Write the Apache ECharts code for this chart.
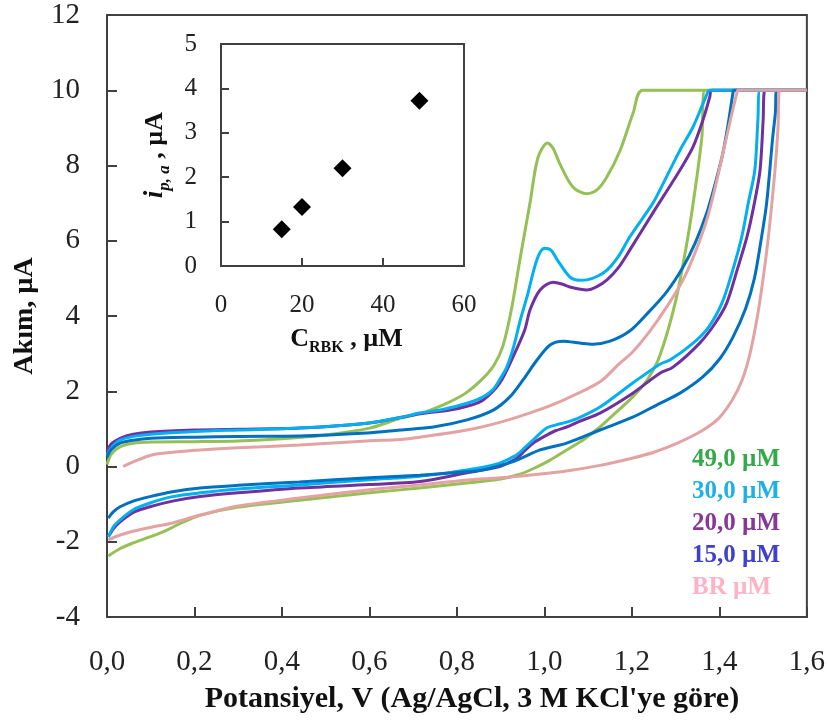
<!DOCTYPE html>
<html><head><meta charset="utf-8">
<script src="https://cdn.jsdelivr.net/npm/echarts@6/dist/echarts.min.js"></script>
<style>html,body{margin:0;padding:0;background:#fff}#c{width:828px;height:726px}</style>
</head><body><div id="c"></div>
<script>
// ---- tick labels ----
const xTickLabels = ['0,0','0,2','0,4','0,6','0,8','1,0','1,2','1,4','1,6'];
const yTickLabels = ['-4','-2','0','2','4','6','8','10','12'];
const insetXTicks = ['0','20','40','60'];
const insetYTicks = ['0','1','2','3','4','5'];

// ---- series names ----
const seriesNames = ['49,0 µM','30,0 µM','20,0 µM','15,0 µM','BR µM'];

// ---- CV curves [potential V, current µA] ----
const cv49 = [[0,0.05],[0.008,0.3],[0.02,0.45],[0.035,0.55],[0.06,0.62],[0.1,0.65],[0.2,0.66],[0.3,0.68],[0.4,0.74],[0.5,0.84],[0.6,1.02],[0.67,1.28],[0.72,1.42],[0.78,1.7],[0.82,1.95],[0.86,2.35],[0.885,2.7],[0.905,3.2],[0.925,4.2],[0.944,5.5],[0.967,7.0],[0.985,8.2],[1.007,8.6],[1.02,8.45],[1.035,8.05],[1.065,7.43],[1.097,7.25],[1.12,7.35],[1.143,7.7],[1.173,8.4],[1.203,9.4],[1.225,10],[1.6,10],
  [1.367,10],[1.36,8.76],[1.345,7.4],[1.328,6.1],[1.3,4.4],[1.264,2.95],[1.235,2.3],[1.202,1.85],[1.16,1.4],[1.127,1.05],[1.09,0.72],[1.051,0.44],[1.01,0.15],[0.974,-0.06],[0.94,-0.22],[0.9,-0.33],[0.823,-0.44],[0.715,-0.57],[0.6,-0.7],[0.44,-0.9],[0.3,-1.08],[0.213,-1.3],[0.17,-1.5],[0.137,-1.69],[0.098,-1.87],[0.06,-2.03],[0.03,-2.18],[0.003,-2.38]];
const cv30 = [[0,0.3],[0.01,0.5],[0.03,0.7],[0.06,0.8],[0.1,0.86],[0.2,0.93],[0.3,0.97],[0.44,1.02],[0.594,1.15],[0.67,1.3],[0.715,1.42],[0.77,1.52],[0.823,1.68],[0.86,1.85],[0.883,2.05],[0.9,2.35],[0.914,2.64],[0.93,3.2],[0.945,3.9],[0.96,4.5],[0.983,5.5],[1.0,5.8],[1.015,5.75],[1.029,5.5],[1.058,5.04],[1.08,4.95],[1.097,4.96],[1.12,5.05],[1.143,5.22],[1.17,5.6],[1.195,6.1],[1.248,7.0],[1.264,7.35],[1.31,8.41],[1.34,9.03],[1.37,9.85],[1.378,10],[1.6,10],
  [1.493,10],[1.488,9.2],[1.481,7.88],[1.466,7.0],[1.451,6.1],[1.43,5.2],[1.406,4.35],[1.375,3.7],[1.34,3.28],[1.287,2.83],[1.264,2.72],[1.202,2.22],[1.127,1.58],[1.08,1.3],[1.051,1.18],[1.025,1.1],[1.006,1.03],[0.99,0.88],[0.974,0.7],[0.955,0.5],[0.937,0.31],[0.915,0.18],[0.898,0.09],[0.86,-0.02],[0.823,-0.09],[0.715,-0.26],[0.6,-0.35],[0.44,-0.49],[0.3,-0.6],[0.213,-0.7],[0.15,-0.8],[0.098,-0.97],[0.06,-1.15],[0.03,-1.42],[0.015,-1.6],[0.003,-1.87]];
const cv20 = [[0,0.4],[0.01,0.6],[0.03,0.75],[0.06,0.86],[0.1,0.92],[0.2,0.97],[0.3,0.99],[0.44,1.02],[0.594,1.15],[0.67,1.3],[0.715,1.4],[0.784,1.5],[0.823,1.6],[0.86,1.77],[0.898,2.22],[0.928,2.91],[0.955,3.63],[0.967,4.16],[0.99,4.69],[1.02,4.9],[1.04,4.85],[1.058,4.77],[1.097,4.69],[1.12,4.78],[1.143,4.96],[1.17,5.3],[1.195,5.75],[1.248,6.74],[1.31,7.88],[1.34,8.5],[1.365,9.3],[1.378,9.82],[1.383,10],[1.6,10],
  [1.504,10],[1.5,9.2],[1.493,7.88],[1.48,7.0],[1.463,6.1],[1.44,5.2],[1.417,4.35],[1.39,3.8],[1.355,3.28],[1.294,2.64],[1.264,2.48],[1.202,1.95],[1.127,1.42],[1.08,1.2],[1.051,1.05],[1.025,0.95],[1.006,0.84],[0.974,0.62],[0.955,0.42],[0.937,0.22],[0.915,0.08],[0.898,0.0],[0.823,-0.17],[0.715,-0.4],[0.6,-0.48],[0.44,-0.57],[0.3,-0.7],[0.213,-0.8],[0.15,-0.92],[0.098,-1.07],[0.06,-1.22],[0.03,-1.47],[0.015,-1.65],[0.003,-1.87]];
const cv15 = [[0,0.25],[0.01,0.45],[0.03,0.62],[0.06,0.7],[0.1,0.75],[0.2,0.78],[0.3,0.8],[0.44,0.81],[0.594,0.89],[0.67,0.97],[0.746,1.05],[0.823,1.24],[0.883,1.5],[0.921,1.85],[0.951,2.3],[0.983,2.83],[1.013,3.23],[1.043,3.33],[1.081,3.28],[1.111,3.25],[1.15,3.33],[1.195,3.6],[1.234,4.05],[1.28,4.65],[1.317,5.3],[1.345,5.95],[1.371,6.74],[1.39,7.5],[1.408,8.33],[1.42,9.1],[1.431,9.93],[1.433,10],[1.6,10],
  [1.531,10],[1.528,9.4],[1.522,8.76],[1.508,7.0],[1.495,6.0],[1.48,5.0],[1.46,4.2],[1.431,3.44],[1.4,2.85],[1.362,2.38],[1.31,1.95],[1.264,1.68],[1.202,1.31],[1.127,0.97],[1.051,0.62],[0.99,0.44],[0.937,0.17],[0.9,0.03],[0.86,-0.09],[0.823,-0.14],[0.715,-0.23],[0.6,-0.3],[0.44,-0.41],[0.3,-0.5],[0.213,-0.57],[0.15,-0.67],[0.098,-0.8],[0.06,-0.92],[0.03,-1.07],[0.015,-1.2],[0.003,-1.37]];
const cvBR = [[0.037,0.0],[0.06,0.12],[0.1,0.3],[0.15,0.38],[0.213,0.44],[0.3,0.5],[0.44,0.57],[0.594,0.68],[0.67,0.72],[0.715,0.78],[0.823,0.97],[0.9,1.18],[0.974,1.45],[1.05,1.8],[1.127,2.25],[1.17,2.72],[1.202,3.05],[1.241,3.6],[1.28,4.25],[1.317,4.96],[1.345,5.7],[1.371,6.55],[1.39,7.4],[1.408,8.33],[1.425,9.2],[1.44,9.93],[1.443,10],[1.6,10],
  [1.538,10],[1.534,9.0],[1.528,8.0],[1.52,7.0],[1.511,6.0],[1.5,5.0],[1.487,4.0],[1.47,3.0],[1.452,2.3],[1.43,1.78],[1.4,1.3],[1.36,0.95],[1.3,0.6],[1.25,0.38],[1.2,0.22],[1.127,0.03],[1.05,-0.12],[0.974,-0.22],[0.9,-0.3],[0.823,-0.36],[0.715,-0.49],[0.6,-0.62],[0.44,-0.84],[0.3,-1.05],[0.213,-1.29],[0.15,-1.5],[0.098,-1.62],[0.06,-1.72],[0.03,-1.82],[0.003,-1.95]];

// ---- inset: peak current vs concentration ----
const insetConc = [15, 20, 30, 49];
const insetIpa = [0.83, 1.33, 2.2, 3.72];

const lineColors = {'49,0 µM':'#94c055','30,0 µM':'#00b0f0','20,0 µM':'#7030a0','15,0 µM':'#0070c0','BR µM':'#e3a3a3'};
const textColors = {'49,0 µM':'#33aa48','30,0 µM':'#1fb0ea','20,0 µM':'#86379a','15,0 µM':'#3f40cf','BR µM':'#ffb1c6'};
const F = 'Liberation Serif';

const curves = {'49,0 µM':cv49,'30,0 µM':cv30,'20,0 µM':cv20,'15,0 µM':cv15,'BR µM':cvBR};
const drawOrder = ['49,0 µM','20,0 µM','30,0 µM','15,0 µM','BR µM'];

const chart = echarts.init(document.getElementById('c'), null, {renderer:'canvas'});
const series = drawOrder.map(n => ({
  name: n, type: 'line', xAxisIndex: 0, yAxisIndex: 0,
  data: curves[n], showSymbol: false, smooth: 0.3,
  lineStyle: {width: 3, color: lineColors[n]}, itemStyle:{color: lineColors[n]}
}));
series.push({
  type: 'scatter', xAxisIndex: 1, yAxisIndex: 1,
  data: insetConc.map((c,i)=>[c, insetIpa[i]]),
  symbol: 'diamond', symbolSize: 18, itemStyle: {color: '#000', opacity: 1}
});

chart.setOption({
  animation: false,
  backgroundColor: '#fff',
  textStyle: {fontFamily: F},
  grid: [
    {left:107, top:15, width:700, height:602, show:true, borderColor:'#404040', borderWidth:2, backgroundColor:'transparent'},
    {left:221, top:44, width:243, height:222, show:true, borderColor:'#404040', borderWidth:2, backgroundColor:'#fff'}
  ],
  legend: {
    orient:'vertical', left:682, top:442, icon:'none', itemWidth:0, itemHeight:24, itemGap:7,
    selectedMode:false,
    textStyle:{fontFamily:F, fontSize:25, fontWeight:'bold', lineHeight:24},
    data: seriesNames.map(n => ({name:n, textStyle:{color:textColors[n]}}))
  },
  xAxis: [
    {gridIndex:0, type:'value', min:0, max:1.6, interval:0.2,
     axisLine:{show:true, onZero:false, lineStyle:{color:'#404040', width:2}},
     axisTick:{show:true, inside:true, length:10, lineStyle:{color:'#404040', width:2}},
     axisLabel:{fontFamily:F, fontSize:29, color:'#222', margin:31, formatter:v=>xTickLabels[Math.round(v/0.2)]},
     splitLine:{show:false},
     name:"Potansiyel, V (Ag/AgCl, 3 M KCl'ye göre)", nameLocation:'middle', nameGap:67,
     nameTextStyle:{fontFamily:F, fontSize:30, fontWeight:'bold', color:'#111', padding:[0,0,0,30]}},
    {gridIndex:1, type:'value', min:0, max:60, interval:20,
     axisLine:{show:true, onZero:false, lineStyle:{color:'#404040', width:2}},
     axisTick:{show:true, inside:true, length:8, lineStyle:{color:'#404040', width:2}},
     axisLabel:{fontFamily:F, fontSize:25, color:'#222', margin:27, formatter:v=>insetXTicks[Math.round(v/20)]},
     splitLine:{show:false},
     name:'{c|C}{s|RBK}{c| , µM}', nameLocation:'middle', nameGap:60,
     nameTextStyle:{padding:[0,0,0,8], rich:{c:{fontFamily:F, fontSize:26, fontWeight:'bold', color:'#111'}, s:{fontFamily:F, fontSize:16, fontWeight:'bold', color:'#111', verticalAlign:'bottom', padding:[0,0,-4,0]}}}}
  ],
  yAxis: [
    {gridIndex:0, type:'value', min:-4, max:12, interval:2,
     axisLine:{show:true, onZero:false, lineStyle:{color:'#404040', width:2}},
     axisTick:{show:true, inside:true, length:10, lineStyle:{color:'#404040', width:2}},
     axisLabel:{fontFamily:F, fontSize:29, color:'#222', margin:27, formatter:v=>yTickLabels[Math.round((v+4)/2)]},
     splitLine:{show:false},
     name:'Akım, µA', nameLocation:'middle', nameGap:68, nameRotate:90,
     nameTextStyle:{fontFamily:F, fontSize:28, fontWeight:'bold', color:'#111'}},
    {gridIndex:1, type:'value', min:0, max:5, interval:1,
     axisLine:{show:true, onZero:false, lineStyle:{color:'#404040', width:2}},
     axisTick:{show:true, inside:true, length:8, lineStyle:{color:'#404040', width:2}},
     axisLabel:{fontFamily:F, fontSize:25, color:'#222', margin:24, formatter:v=>insetYTicks[Math.round(v)]},
     splitLine:{show:false},
     name:'{i|i}{s|p, a}{n| , µA}', nameLocation:'middle', nameGap:52, nameRotate:90,
     nameTextStyle:{rich:{i:{fontFamily:F, fontSize:27, fontWeight:'bold', fontStyle:'italic', color:'#111'}, s:{fontFamily:F, fontSize:17, fontWeight:'bold', fontStyle:'italic', color:'#111', verticalAlign:'bottom', padding:[0,0,-4,0]}, n:{fontFamily:F, fontSize:26, fontWeight:'bold', color:'#111'}}}}
  ],
  series: series
});
</script>
</body></html>
